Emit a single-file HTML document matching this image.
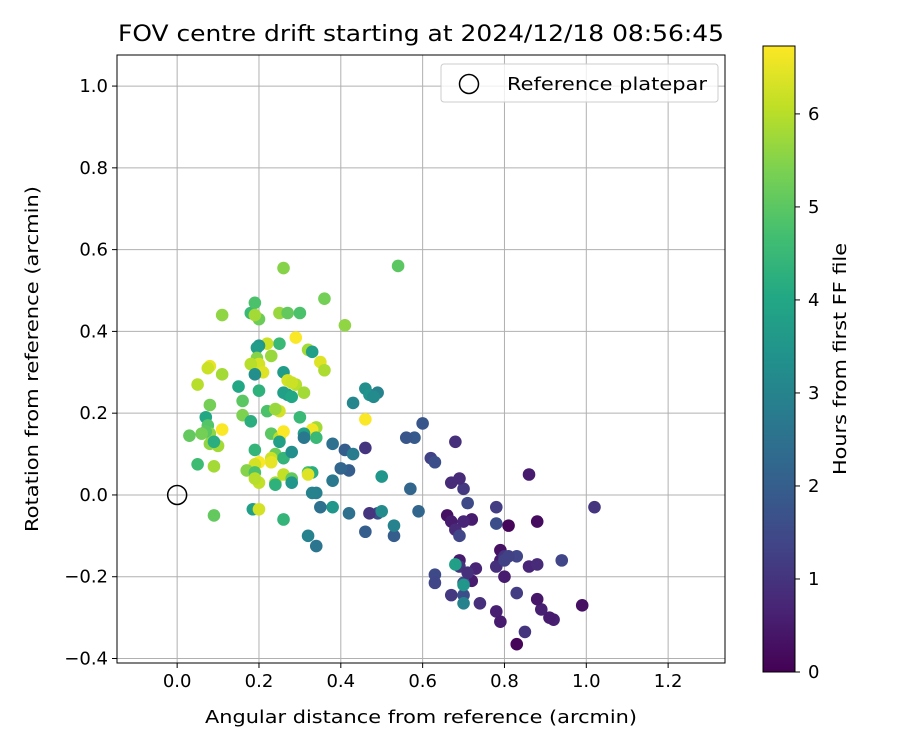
<!DOCTYPE html>
<html><head><meta charset="utf-8"><style>
html,body{margin:0;padding:0;background:#fff;}
svg{display:block;font-family:"DejaVu Sans","Liberation Sans",sans-serif;}
</style></head><body>
<svg id="chart" width="900" height="750" viewBox="0 0 900 750">
<defs><linearGradient id="vir" x1="0" y1="1" x2="0" y2="0">
<stop offset="0" stop-color="#440154"/><stop offset="0.1" stop-color="#482475"/><stop offset="0.2" stop-color="#414487"/><stop offset="0.3" stop-color="#355f8d"/><stop offset="0.4" stop-color="#2a788e"/><stop offset="0.5" stop-color="#21918c"/><stop offset="0.6" stop-color="#22a884"/><stop offset="0.7" stop-color="#44bf70"/><stop offset="0.8" stop-color="#7ad151"/><stop offset="0.9" stop-color="#bddf26"/><stop offset="1" stop-color="#fde725"/></linearGradient></defs>
<text x="421" y="41" font-size="22" text-anchor="middle" textLength="606" lengthAdjust="spacingAndGlyphs">FOV centre drift starting at 2024/12/18 08:56:45</text>
<g id="grid"></g><g id="points"></g><g id="axes"></g>
<text x="421" y="723" font-size="18" text-anchor="middle" textLength="432" lengthAdjust="spacingAndGlyphs">Angular distance from reference (arcmin)</text>
<text transform="translate(38,359) rotate(-90)" font-size="18" text-anchor="middle" textLength="346" lengthAdjust="spacingAndGlyphs">Rotation from reference (arcmin)</text>
<g>
<rect x="441" y="64" width="277" height="38" rx="3" fill="#fff" fill-opacity="0.8" stroke="#ccc"/>
<circle cx="469" cy="84" r="9.5" fill="none" stroke="#000" stroke-width="1.5"/>
<text x="507" y="90" font-size="18" textLength="200" lengthAdjust="spacingAndGlyphs">Reference platepar</text>
</g>
<g id="cbar">
<rect x="763" y="46" width="32" height="626" fill="url(#vir)" stroke="#000" stroke-width="1"/>
</g>
<text transform="translate(846,359) rotate(-90)" font-size="18" text-anchor="middle" textLength="232" lengthAdjust="spacingAndGlyphs">Hours from first FF file</text>
</svg>
<script>
const xTicks=[0.0,0.2,0.4,0.6,0.8,1.0,1.2];
const yTicks=[-0.4,-0.2,0.0,0.2,0.4,0.6,0.8,1.0];
const cTicks=[0,1,2,3,4,5,6];
const hourMax=6.73;
const xs=[0.83,0.99,0.88,0.81,0.86,0.92,0.91,0.89,0.88,0.86,0.88,0.85,0.83,0.80,0.79,0.79,0.78,0.80,0.83,0.78,0.79,0.74,0.72,0.73,0.72,0.70,0.71,0.70,0.69,0.67,0.66,0.67,0.68,0.69,0.69,0.69,0.70,0.71,0.68,0.78,0.78,0.80,0.81,0.94,1.02,0.67,0.70,0.63,0.63,0.62,0.63,0.60,0.58,0.56,0.57,0.53,0.59,0.46,0.49,0.47,0.46,0.42,0.40,0.41,0.38,0.38,0.42,0.35,0.34,0.34,0.32,0.43,0.43,0.46,0.47,0.49,0.48,0.50,0.50,0.53,0.38,0.70,0.68,0.70,
0.54,0.41,0.36,0.26,0.18,0.19,0.20,0.19,0.25,0.27,0.30,0.29,0.25,0.22,0.20,0.195,0.32,0.33,0.195,0.23,0.20,0.18,0.11,0.08,0.075,0.11,0.21,0.19,0.26,0.27,0.29,0.28,0.31,0.27,0.26,0.28,0.20,0.15,0.05,0.08,0.16,0.16,0.18,0.22,0.25,0.24,0.30,0.34,0.33,0.31,0.31,0.34,0.07,0.075,0.08,0.07,0.06,0.03,0.11,0.08,0.10,0.09,0.23,0.25,0.26,0.25,0.24,0.23,0.23,0.19,0.20,0.19,0.17,0.19,0.20,0.19,0.24,0.24,0.26,0.28,0.28,0.32,0.33,0.32,0.26,0.28,0.35,0.36,0.46,0.05,0.09,0.09,0.185,0.20,0.26,0.33];
const ys=[-0.365,-0.27,-0.065,-0.075,0.05,-0.305,-0.30,-0.28,-0.255,-0.175,-0.17,-0.335,-0.24,-0.2,-0.135,-0.16,-0.175,-0.15,-0.15,-0.285,-0.31,-0.265,-0.21,-0.18,-0.06,-0.065,-0.02,0.015,0.04,0.03,-0.05,-0.065,-0.085,-0.10,-0.16,-0.175,-0.215,-0.19,0.13,-0.03,-0.07,-0.16,-0.15,-0.16,-0.03,-0.245,-0.245,-0.195,-0.215,0.09,0.08,0.175,0.14,0.14,0.015,-0.1,-0.04,-0.09,-0.045,-0.045,0.115,0.06,0.065,0.11,0.125,0.035,-0.045,-0.03,0.005,-0.125,-0.10,0.10,0.225,0.26,0.245,0.25,0.24,0.045,-0.04,-0.075,-0.03,-0.22,-0.17,-0.265,
0.56,0.415,0.48,0.555,0.445,0.47,0.43,0.44,0.445,0.445,0.445,0.385,0.37,0.37,0.365,0.36,0.355,0.35,0.335,0.34,0.32,0.32,0.44,0.315,0.31,0.295,0.30,0.295,0.30,0.28,0.27,0.275,0.25,0.245,0.25,0.24,0.255,0.265,0.27,0.22,0.23,0.195,0.18,0.205,0.205,0.21,0.19,0.165,0.16,0.15,0.14,0.14,0.19,0.17,0.15,0.155,0.15,0.145,0.16,0.125,0.12,0.13,0.15,0.14,0.155,0.13,0.10,0.09,0.08,0.11,0.08,0.075,0.06,0.055,0.03,0.04,0.03,0.025,0.05,0.04,0.03,0.055,0.055,0.05,0.09,0.105,0.325,0.305,0.185,0.075,0.07,-0.05,-0.035,-0.035,-0.06,0.005];
const hours=[0.1,0.3,0.2,0.1,0.5,0.6,0.5,0.6,0.4,0.7,0.8,1.0,1.2,0.5,0.3,0.5,0.9,1.0,1.4,0.6,0.5,0.9,0.5,0.7,0.5,0.7,1.5,1.1,0.8,0.8,0.3,0.5,0.8,1.4,0.5,1.0,1.5,0.9,0.9,1.2,1.6,1.3,1.3,1.4,1.0,1.1,1.6,1.5,1.4,1.3,1.6,1.8,1.9,1.8,2.2,2.0,2.2,2.0,1.6,1.0,1.0,2.0,2.2,2.0,2.5,2.7,2.5,2.5,2.9,2.6,3.0,2.8,3.1,3.3,3.4,3.0,3.2,3.5,3.2,3.0,3.5,3.5,3.8,3.0,
5.0,5.6,5.3,5.5,4.5,4.8,5.2,5.8,5.7,5.1,4.8,6.7,4.5,6.2,3.5,3.7,5.8,3.8,5.5,5.7,6.3,6.0,5.6,6.5,6.2,5.8,6.4,3.3,3.7,6.3,6.0,6.2,5.8,3.6,3.8,4.0,4.3,4.0,6.0,5.3,5.0,5.4,4.2,4.8,6.3,5.7,4.5,5.8,6.6,3.8,2.7,4.5,4.0,4.9,5.6,5.0,5.3,5.1,6.7,5.6,5.8,4.2,5.0,6.0,6.7,3.8,5.2,6.2,6.5,4.4,6.7,6.3,5.5,4.8,6.1,6.0,5.8,4.3,6.1,5.1,3.5,4.8,4.2,6.4,4.4,3.3,6.4,5.9,6.7,4.6,5.8,5.1,3.8,6.3,4.4,3.0];
const L=117,R=725,T=55,B=663;
const xMin=-0.147,xMax=1.339,yMin=-0.411,yMax=1.076;
const sx=v=>L+(v-xMin)/(xMax-xMin)*(R-L);
const sy=v=>B-(v-yMin)/(yMax-yMin)*(B-T);
const cy=h=>672-h/hourMax*626;
const stops=["#440154","#482475","#414487","#355f8d","#2a788e","#21918c","#22a884","#44bf70","#7ad151","#bddf26","#fde725"];
function viridis(t){t=Math.max(0,Math.min(1,t));const f=t*10,i=Math.min(9,Math.floor(f)),u=f-i;
const a=stops[i],b=stops[i+1];const c=k=>Math.round(parseInt(a.substr(k,2),16)*(1-u)+parseInt(b.substr(k,2),16)*u);
return `rgb(${c(1)},${c(3)},${c(5)})`;}
const NS="http://www.w3.org/2000/svg";
function mk(tag,attrs,parent){const e=document.createElementNS(NS,tag);for(const k in attrs)e.setAttribute(k,attrs[k]);parent.appendChild(e);return e;}
const grid=document.getElementById('grid'),axes=document.getElementById('axes'),pts=document.getElementById('points'),cbar=document.getElementById('cbar');
xTicks.forEach(v=>{const x=sx(v);
const g=mk('line',{x1:x,x2:x,y1:T,y2:B,stroke:'#b0b0b0','stroke-width':1},grid);


mk('line',{x1:x,x2:x,y1:B,y2:B+5,stroke:'#000'},axes);
const t=mk('text',{x:x,y:B+24,'font-size':18,'text-anchor':'middle'},axes);t.textContent=v.toFixed(1);

});
yTicks.forEach(v=>{const y=sy(v);
const g=mk('line',{x1:L,x2:R,y1:y,y2:y,stroke:'#b0b0b0','stroke-width':1},grid);


mk('line',{x1:L-5,x2:L,y1:y,y2:y,stroke:'#000'},axes);
const t=mk('text',{x:L-9,y:y+6,'font-size':18,'text-anchor':'end'},axes);t.textContent=(v<0?'\u2212':'')+Math.abs(v).toFixed(1);

});
const fr=mk('rect',{x:L,y:T,width:R-L,height:B-T,fill:'none',stroke:'#000','stroke-width':1},axes);


xs.forEach((x,i)=>{const c=mk('circle',{cx:sx(x),cy:sy(ys[i]),r:6.3,fill:viridis(hours[i]/hourMax)},pts);

});
const ref=mk('circle',{cx:sx(0),cy:sy(0),r:9.5,fill:'none',stroke:'#000','stroke-width':1.5},pts);


cTicks.forEach(h=>{const y=cy(h);
mk('line',{x1:795,x2:800,y1:y,y2:y,stroke:'#000'},cbar);
const t=mk('text',{x:808,y:y+6,'font-size':18},cbar);t.textContent=h;

});
</script>
</body></html>
